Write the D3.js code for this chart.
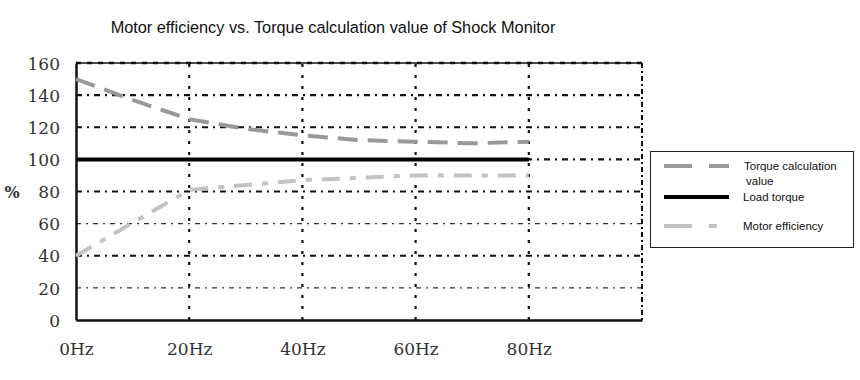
<!DOCTYPE html>
<html><head><meta charset="utf-8">
<script src="https://cdn.jsdelivr.net/npm/d3@7"></script>
<style>body{margin:0;background:#fff}</style>
</head><body>
<svg id="c" width="860" height="380"></svg>
<script>
const title = "Motor efficiency vs. Torque calculation value of Shock Monitor";
const freqTicks = [0, 20, 40, 60, 80];
const yTicks = [0, 20, 40, 60, 80, 100, 120, 140, 160];
const torqueFreq = [0, 10, 20, 30, 40, 50, 60, 70, 80];
const torqueVals = [150, 137, 125, 119, 115, 112, 111, 110, 111];
const effFreq = [0, 20, 40, 60, 80];
const effVals = [40, 81, 87, 90, 90];
const loadFreq = [0, 80];
const loadVals = [100, 100];
const seriesNames = ["Torque calculation value", "Load torque", "Motor efficiency"];

const svg = d3.select("#c");
const L = 76, R = 642, T = 63, B = 320;
const x = d3.scaleLinear().domain([0, 100]).range([L, R]);
const y = d3.scaleLinear().domain([0, 160]).range([B, T]);

svg.append("text").attr("x", 333).attr("y", 33).attr("text-anchor", "middle")
  .attr("font-family", "Liberation Sans, Arial, sans-serif").attr("font-size", 16.3)
  .attr("fill", "#111").text(title);

// horizontal grid
const g = svg.append("g");
yTicks.filter(v => v > 0 && v < 160).forEach(v => {
  const thick = (v % 40 === 0) || v === 100 || v === 140;
  g.append("line").attr("x1", x(0)).attr("x2", x(100)).attr("y1", y(v)).attr("y2", y(v))
    .attr("stroke", thick ? "#111" : "#333")
    .attr("stroke-width", thick ? 2.2 : 1.3)
    .attr("stroke-dasharray", thick ? "6,5,2,5" : "5,5,2,5");
});
// vertical grid
freqTicks.filter(v => v > 0).forEach(v => {
  g.append("line").attr("x1", x(v)).attr("x2", x(v)).attr("y1", y(0)).attr("y2", y(160))
    .attr("stroke", "#111").attr("stroke-width", 2.2).attr("stroke-dasharray", "3,8");
});
// borders
g.append("line").attr("x1", x(0)).attr("x2", x(100)).attr("y1", y(160)).attr("y2", y(160))
  .attr("stroke", "#111").attr("stroke-width", 1.5);
g.append("line").attr("x1", x(0)).attr("x2", x(100)).attr("y1", y(160)).attr("y2", y(160))
  .attr("stroke", "#111").attr("stroke-width", 2.5).attr("stroke-dasharray", "5,6");
g.append("line").attr("x1", x(100)).attr("x2", x(100)).attr("y1", y(160)).attr("y2", y(0))
  .attr("stroke", "#111").attr("stroke-width", 2).attr("stroke-dasharray", "5,3,2,3");

// axes
const yAxis = d3.axisLeft(y).tickValues(yTicks).tickSize(0).tickPadding(16);
const ya = svg.append("g").attr("transform", `translate(${L},0)`).call(yAxis);
const xAxis = d3.axisBottom(x).tickValues(freqTicks).tickSize(0).tickPadding(23).tickFormat(d => d + "Hz");
const xa = svg.append("g").attr("transform", `translate(0,${B})`).call(xAxis);
[ya, xa].forEach(a => {
  a.select(".domain").attr("stroke", "#111").attr("stroke-width", 2.5);
  a.selectAll("text").attr("font-family", "DejaVu Serif, serif")
    .attr("font-size", 17).attr("fill", "#333");
});
ya.selectAll("text").attr("dy", "0.36em");

svg.append("text").attr("x", 12).attr("y", 198).attr("text-anchor", "middle")
  .attr("font-family", "DejaVu Serif, serif").attr("font-size", 16).attr("font-weight", "bold")
  .attr("fill", "#333").text("%");

const line = d3.line().x(d => x(d[0])).y(d => y(d[1]));
const styles = [
  {color: "#999", w: 4, dash: "20,10"},
  {color: "#000", w: 4, dash: null},
  {color: "#c2c2c2", w: 4, dash: "18,10,6,10"}
];
const data = [
  d3.zip(torqueFreq, torqueVals),
  d3.zip(loadFreq, loadVals),
  d3.zip(effFreq, effVals)
];
[2, 0, 1].forEach(i => {
  svg.append("path").attr("d", line(data[i])).attr("fill", "none")
    .attr("stroke", styles[i].color).attr("stroke-width", styles[i].w)
    .attr("stroke-dasharray", styles[i].dash);
});

// legend
const lg = svg.append("g");
lg.append("rect").attr("x", 650.5).attr("y", 151.5).attr("width", 203).attr("height", 96)
  .attr("fill", "#fff").attr("stroke", "#222").attr("stroke-width", 1);
const ly = [166, 197, 226];
seriesNames.forEach((n, i) => {
  const s = styles[i];
  lg.append("line").attr("x1", 664).attr("x2", 729).attr("y1", ly[i]).attr("y2", ly[i])
    .attr("stroke", s.color).attr("stroke-width", s.w)
    .attr("stroke-dasharray", i === 0 ? "28,17,20" : (i === 2 ? "28,17,8" : null));
  const t = lg.append("text").attr("font-family", "Liberation Sans, Arial, sans-serif")
    .attr("font-size", 11.5).attr("fill", "#111");
  if (i === 0) {
    t.append("tspan").attr("x", 744).attr("y", 170).text("Torque calculation");
    t.append("tspan").attr("x", 746).attr("y", 185).text("value");
  } else {
    t.attr("x", 743).attr("y", ly[i] + 4).text(n);
  }
});
</script>
</body></html>
